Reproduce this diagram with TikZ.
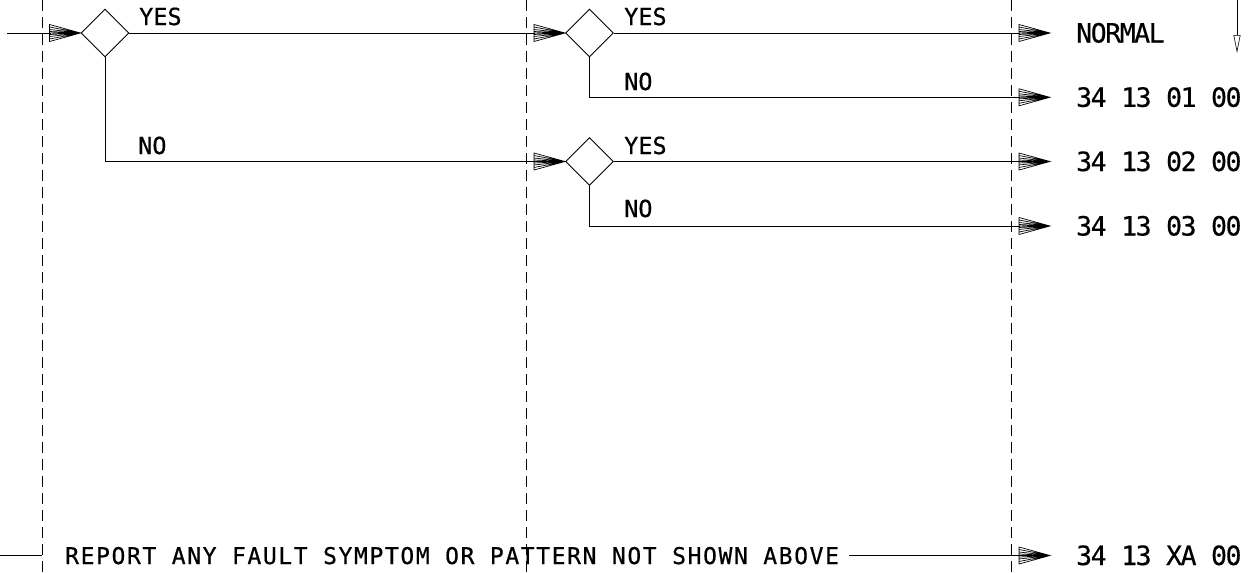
\documentclass[tikz,border=0pt]{standalone}
\usepackage{fontspec}
\usetikzlibrary{shapes.geometric,arrows.meta}
\newfontfamily\lblfont[FakeBold=0.6]{DejaVu Sans Mono}
\newfontfamily\codefont[LetterSpace=-5.5,FakeBold=0.5]{DejaVu Sans Mono}
\newfontfamily\repfont[LetterSpace=7,FakeBold=0.6]{DejaVu Sans Mono}

\pgfdeclarearrow{
  name = Hatch,
  setup code = {
    \pgfarrowssettipend{0pt}
    \pgfarrowssetlineend{-30pt}
    \pgfarrowssetbackend{-31pt}
    \pgfarrowshullpoint{0pt}{0pt}
    \pgfarrowsupperhullpoint{-31pt}{8.5pt}
  },
  drawing code = {
    \pgfsetlinewidth{0.7pt}
    \pgfsetdash{}{0pt}
    \pgfsetmiterjoin
    \pgfpathmoveto{\pgfpoint{-31pt}{8.5pt}}
    \pgfpathlineto{\pgfpointorigin}
    \pgfpathlineto{\pgfpoint{-31pt}{-8.5pt}}
    \pgfpathclose
    \pgfpathmoveto{\pgfpoint{-31pt}{6pt}}\pgfpathlineto{\pgfpointorigin}
    \pgfpathmoveto{\pgfpoint{-31pt}{-6pt}}\pgfpathlineto{\pgfpointorigin}
    \pgfpathmoveto{\pgfpoint{-31pt}{3.5pt}}\pgfpathlineto{\pgfpointorigin}
    \pgfpathmoveto{\pgfpoint{-31pt}{-3.5pt}}\pgfpathlineto{\pgfpointorigin}
    \pgfpathmoveto{\pgfpoint{-31pt}{1.5pt}}\pgfpathlineto{\pgfpointorigin}
    \pgfpathmoveto{\pgfpoint{-31pt}{-1.5pt}}\pgfpathlineto{\pgfpointorigin}
    \pgfpathmoveto{\pgfpoint{-31pt}{0pt}}\pgfpathlineto{\pgfpointorigin}
    \pgfusepathqstroke
  }
}

\tikzset{
  decision/.style={diamond, draw, line width=0.9pt, minimum width=48pt, minimum height=48pt, inner sep=0pt, aspect=1},
  flow/.style={line width=0.9pt, -Hatch},
  plainline/.style={line width=0.9pt},
  guide/.style={line width=0.8pt, dash pattern=on 11pt off 6pt},
  lbl/.style={inner sep=0pt, anchor=base west, font=\lblfont\fontsize{23.5}{24}\selectfont},
  code/.style={anchor=west, inner ysep=0pt, inner xsep=26pt, text height=19pt, text depth=0pt, font=\codefont\fontsize{26.5}{27}\selectfont},
  report/.style={anchor=west, inner sep=0pt, text height=16pt, text depth=0pt, font=\repfont\fontsize{23}{24}\selectfont},
}

\begin{document}
\begin{tikzpicture}[x=1pt, y=-1pt]
\useasboundingbox (0,0) rectangle (1259,573);

% column guides
\coordinate (g1t) at (42.3,0);   \coordinate (g1b) at (42.3,573);
\coordinate (g2t) at (526.7,0);  \coordinate (g2b) at (526.7,573);
\coordinate (g3t) at (1011.7,0); \coordinate (g3b) at (1011.7,573);
\draw[guide] (g1t) -- (g1b);
\draw[guide] (g2t) -- (g2b);
\draw[guide] (g3t) -- (g3b);

% decisions
\node[decision] (d1) at (105,33) {};
\node[decision] (d2) at (589.5,33) {};
\node[decision] (d3) at (589.5,161.5) {};

% result codes
\node[code] (r0) at (1050,33) {NORMAL};
\node[code] (r1) at (1050,97.3) {34 13 01 00};
\node[code] (r2) at (1050,161.5) {34 13 02 00};
\node[code] (r3) at (1050,226) {34 13 03 00};
\node[code] (r4) at (1050,555.5) {34 13 XA 00};

% labels
\node[lbl] (y1) at (139,25) {YES};
\node[lbl] (n1) at (138,154) {NO};
\node[lbl] (y2) at (624,25) {YES};
\node[lbl] (n2) at (624,90) {NO};
\node[lbl] (y3) at (624,154) {YES};
\node[lbl] (n3) at (624,217) {NO};

% report line
\node[report] (rep) at (65,556) {REPORT ANY FAULT SYMPTOM OR PATTERN NOT SHOWN ABOVE};
\coordinate (bin) at (0,555.5);
\draw[plainline] (bin) -- (bin -| g1t);
\draw[flow, shorten <=10pt] (rep.east |- r4.west) -- (r4.west);

% flow
\coordinate (in) at (7,33);
\draw[flow] (in) -- (d1.west);
\draw[flow] (d1.east) -- (d2.west);
\draw[flow] (d1.south) |- (d3.west);
\draw[flow] (d2.east) -- (r0.west);
\draw[flow] (d2.south) |- (r1.west);
\draw[flow] (d3.east) -- (r2.west);
\draw[flow] (d3.south) |- (r3.west);

% continuation arrow
\coordinate (ct) at (1237,0);
\coordinate (cb) at (1237,53);
\draw[line width=0.8pt, -{Triangle[open,length=18pt,width=7pt,line width=0.6pt]}] (ct) -- (cb);
\end{tikzpicture}
\end{document}
